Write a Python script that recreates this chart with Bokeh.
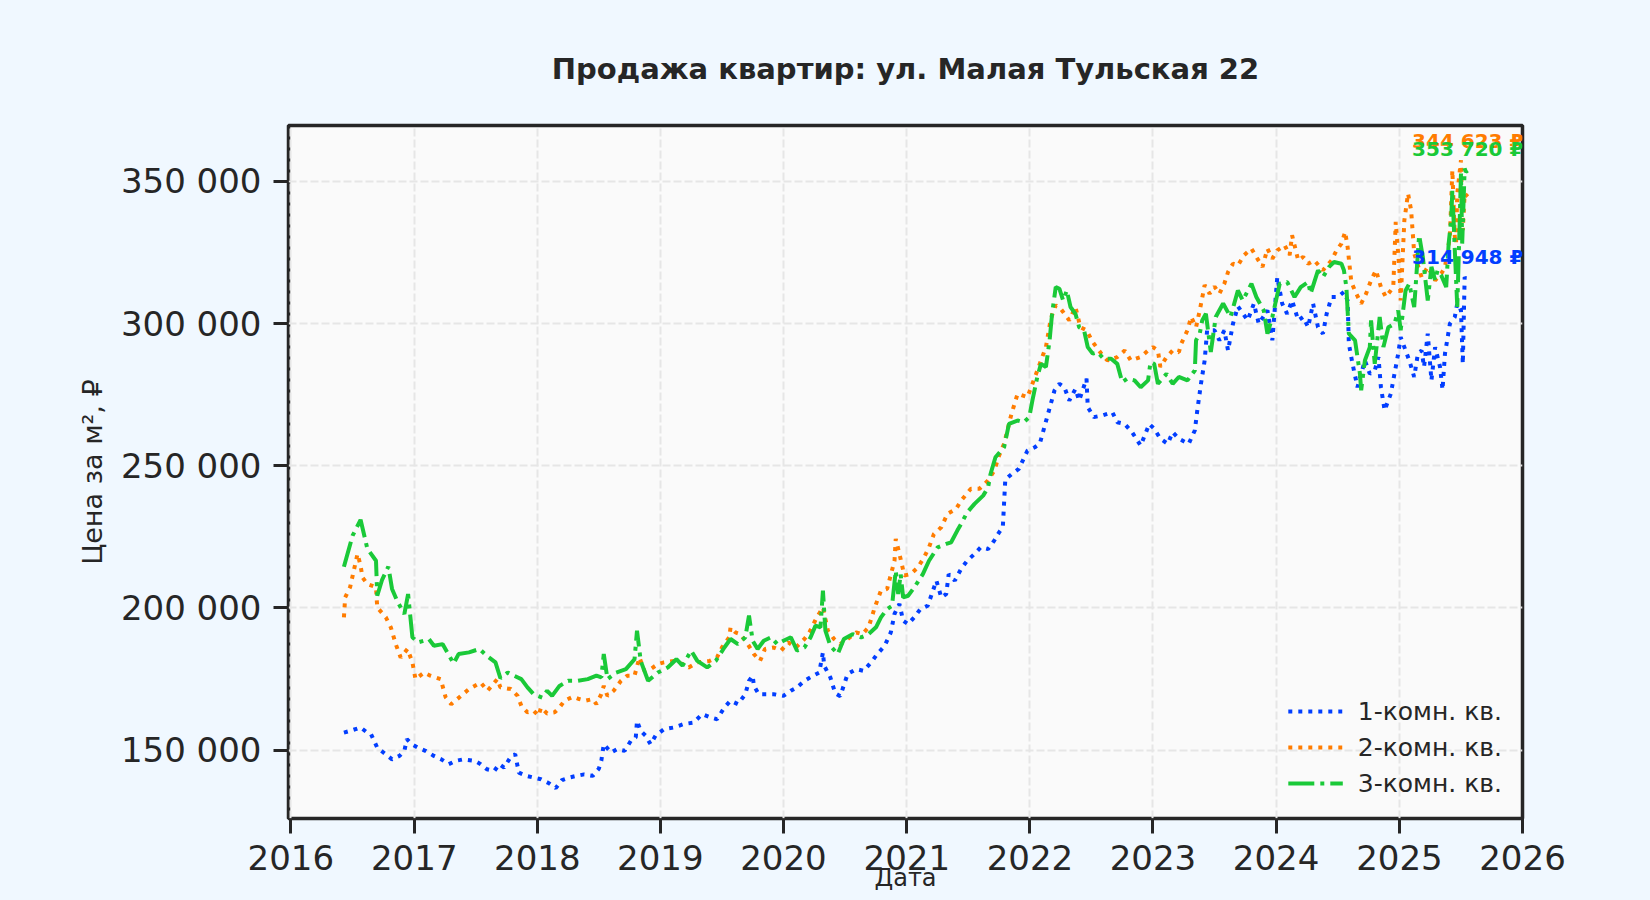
from datetime import datetime
import calendar

from bokeh.plotting import figure
from bokeh.models import (ColumnDataSource, Range1d, FixedTicker,
                          CustomJSTickFormatter, Legend)
from bokeh.core.properties import value
from bokeh.embed import file_html
from bokeh.resources import INLINE

# ---------------- data (decimal year, price in thousand RUB per m2) ----------------
t_1k = [2016.43, 2016.48, 2016.565, 2016.61, 2016.65, 2016.70, 2016.75, 2016.82, 2016.88, 2016.92,
        2016.94, 2016.98, 2017.03, 2017.09, 2017.16, 2017.22, 2017.28, 2017.34, 2017.40, 2017.49,
        2017.54, 2017.59, 2017.65, 2017.69, 2017.73, 2017.78, 2017.82, 2017.85, 2017.91, 2017.97,
        2018.03, 2018.09, 2018.15, 2018.20, 2018.26, 2018.32, 2018.38, 2018.45, 2018.50, 2018.52,
        2018.54, 2018.60, 2018.65, 2018.71, 2018.76, 2018.80, 2018.81, 2018.84, 2018.88, 2018.92,
        2018.96, 2019.03, 2019.11, 2019.19, 2019.27, 2019.34, 2019.41, 2019.46, 2019.52, 2019.57,
        2019.63, 2019.69, 2019.72, 2019.75, 2019.76, 2019.80, 2019.86, 2019.92, 2020.00, 2020.06,
        2020.11, 2020.17, 2020.24, 2020.29, 2020.32, 2020.33, 2020.38, 2020.42, 2020.46, 2020.52,
        2020.59, 2020.65, 2020.72, 2020.76, 2020.82, 2020.87, 2020.90, 2020.94, 2020.97, 2021.01,
        2021.06, 2021.11, 2021.17, 2021.24, 2021.28, 2021.32, 2021.34, 2021.39, 2021.44, 2021.49,
        2021.55, 2021.60, 2021.66, 2021.71, 2021.75, 2021.78, 2021.80, 2021.85, 2021.91, 2021.98,
        2022.04, 2022.08, 2022.14, 2022.20, 2022.24, 2022.28, 2022.32, 2022.37, 2022.40, 2022.46,
        2022.47, 2022.52, 2022.59, 2022.67, 2022.71, 2022.77, 2022.83, 2022.90, 2022.97, 2023.01,
        2023.06, 2023.12, 2023.16, 2023.21, 2023.29, 2023.34, 2023.36, 2023.39, 2023.42, 2023.44,
        2023.50, 2023.54, 2023.58, 2023.61, 2023.65, 2023.69, 2023.77, 2023.82, 2023.86, 2023.93,
        2023.97, 2024.01, 2024.05, 2024.09, 2024.13, 2024.18, 2024.22, 2024.26, 2024.30, 2024.34,
        2024.38, 2024.41, 2024.45, 2024.50, 2024.55, 2024.58, 2024.59, 2024.62, 2024.66, 2024.69,
        2024.72, 2024.76, 2024.80, 2024.83, 2024.85, 2024.88, 2024.93, 2024.99, 2025.01, 2025.04,
        2025.08, 2025.12, 2025.15, 2025.18, 2025.20, 2025.23, 2025.26, 2025.29, 2025.33, 2025.35,
        2025.37, 2025.41, 2025.45, 2025.47, 2025.50, 2025.515, 2025.53, 2025.555]
p_1k = [156.2, 156.8, 158.0, 156.5, 155.6, 150.9, 149.2, 146.8, 148.0, 149.8,
        153.9, 152.1, 150.9, 149.8, 148.0, 146.8, 145.1, 146.3, 146.8, 146.3,
        145.1, 143.3, 142.7, 145.1, 143.9, 147.4, 148.6, 142.1, 141.0, 140.4,
        139.8, 138.5, 136.7, 139.5, 140.4, 141.0, 141.5, 141.0, 143.5, 146.3,
        152.1, 149.2, 150.4, 149.8, 153.3, 154.5, 160.3, 156.8, 155.1, 152.1,
        155.1, 157.4, 158.0, 159.2, 159.7, 162.7, 161.5, 160.9, 165.0, 167.4,
        166.2, 169.7, 174.4, 176.2, 172.6, 169.7, 169.7, 169.7, 169.1, 170.9,
        172.1, 174.4, 176.2, 177.3, 184.4, 179.7, 175.6, 170.0, 169.0, 176.8,
        178.5, 177.9, 181.4, 183.8, 186.7, 191.4, 197.9, 201.4, 195.5, 194.3,
        196.7, 199.6, 200.8, 209.6, 203.7, 204.9, 211.9, 209.6, 213.7, 216.6,
        219.0, 221.3, 220.7, 223.7, 226.6, 228.5, 245.2, 247.0, 248.9, 255.3,
        256.5, 257.7, 267.1, 276.5, 278.8, 277.6, 272.9, 277.0, 272.9, 280.6,
        270.6, 267.1, 267.7, 268.8, 265.3, 264.7, 261.8, 257.1, 264.7, 263.0,
        259.5, 257.7, 261.8, 259.5, 257.7, 262.4, 269.4, 278.8, 287.0, 297.6,
        297.6, 294.1, 297.6, 290.5, 299.9, 306.0, 301.1, 307.0, 299.9, 304.6,
        294.1, 316.3, 307.0, 303.4, 308.1, 301.1, 302.3, 298.7, 307.0, 298.7,
        296.4, 303.4, 309.3, 309.3, 311.1, 308.1, 292.9, 285.8, 277.6, 282.3,
        287.0, 282.3, 283.5, 288.2, 277.6, 269.5, 275.3, 289.4, 295.2, 291.7,
        287.0, 281.2, 289.4, 290.5, 284.7, 296.4, 280.0, 291.7, 284.7, 276.7,
        289.4, 299.9, 302.3, 307.0, 304.6, 285.8, 316.3, 314.948]

t_2k = [2016.43, 2016.44, 2016.48, 2016.54, 2016.565, 2016.58, 2016.62, 2016.69, 2016.70, 2016.77,
        2016.81, 2016.85, 2016.89, 2016.945, 2016.985, 2017.01, 2017.08, 2017.13, 2017.215, 2017.255,
        2017.30, 2017.35, 2017.445, 2017.54, 2017.595, 2017.675, 2017.70, 2017.785, 2017.84, 2017.87,
        2017.92, 2017.97, 2018.01, 2018.03, 2018.08, 2018.14, 2018.18, 2018.22, 2018.29, 2018.34,
        2018.39, 2018.45, 2018.48, 2018.52, 2018.54, 2018.57, 2018.62, 2018.68, 2018.73, 2018.79,
        2018.83, 2018.87, 2018.92, 2018.98, 2019.03, 2019.11, 2019.18, 2019.23, 2019.30, 2019.40,
        2019.46, 2019.50, 2019.56, 2019.57, 2019.61, 2019.65, 2019.71, 2019.76, 2019.81, 2019.85,
        2019.92, 2019.98, 2020.04, 2020.10, 2020.17, 2020.21, 2020.27, 2020.32, 2020.36, 2020.41,
        2020.46, 2020.52, 2020.59, 2020.64, 2020.69, 2020.74, 2020.79, 2020.84, 2020.90, 2020.91,
        2020.94, 2020.98, 2021.03, 2021.09, 2021.14, 2021.18, 2021.22, 2021.28, 2021.33, 2021.40,
        2021.44, 2021.52, 2021.59, 2021.66, 2021.71, 2021.75, 2021.79, 2021.85, 2021.90, 2021.98,
        2022.05, 2022.13, 2022.17, 2022.21, 2022.25, 2022.32, 2022.37, 2022.41, 2022.46, 2022.51,
        2022.58, 2022.63, 2022.71, 2022.77, 2022.82, 2022.90, 2022.96, 2023.00, 2023.04, 2023.06,
        2023.11, 2023.16, 2023.21, 2023.23, 2023.28, 2023.31, 2023.35, 2023.38, 2023.42, 2023.46,
        2023.50, 2023.54, 2023.58, 2023.61, 2023.65, 2023.69, 2023.74, 2023.80, 2023.84, 2023.89,
        2023.93, 2023.97, 2024.01, 2024.07, 2024.11, 2024.13, 2024.18, 2024.22, 2024.26, 2024.31,
        2024.38, 2024.45, 2024.49, 2024.53, 2024.56, 2024.58, 2024.61, 2024.65, 2024.69, 2024.73,
        2024.77, 2024.81, 2024.85, 2024.89, 2024.95, 2024.97, 2025.00, 2025.01, 2025.04, 2025.07,
        2025.095, 2025.12, 2025.18, 2025.23, 2025.29, 2025.34, 2025.37, 2025.41, 2025.43, 2025.45,
        2025.46, 2025.47, 2025.50, 2025.515, 2025.53, 2025.555]
p_2k = [196.7, 203.7, 207.3, 219.0, 214.9, 210.8, 208.4, 207.3, 200.2, 196.7,
        193.2, 187.3, 182.6, 185.6, 180.9, 175.0, 177.3, 176.2, 175.0, 168.6,
        166.2, 168.0, 171.5, 173.8, 170.9, 175.0, 172.1, 171.5, 169.1, 165.6,
        163.3, 163.9, 162.1, 165.0, 162.9, 163.3, 165.0, 167.4, 168.8, 168.0,
        167.4, 168.0, 166.2, 169.7, 172.6, 169.1, 170.9, 174.4, 176.2, 176.2,
        182.6, 177.9, 178.5, 180.3, 180.9, 181.4, 180.3, 179.1, 180.9, 181.4,
        182.6, 186.1, 189.7, 193.2, 191.4, 190.8, 187.3, 183.8, 181.4, 185.6,
        186.1, 185.0, 187.9, 186.1, 189.1, 191.4, 196.7, 200.2, 192.0, 189.1,
        187.3, 189.1, 191.4, 190.8, 193.2, 200.2, 206.1, 206.7, 216.6, 224.3,
        219.0, 211.4, 211.9, 214.3, 217.8, 221.3, 226.0, 228.4, 233.1, 234.8,
        237.7, 241.9, 241.9, 244.8, 248.3, 253.6, 257.7, 268.2, 275.3, 274.1,
        282.3, 291.7, 301.7, 306.4, 305.2, 301.1, 305.8, 298.7, 297.6, 293.5,
        289.4, 287.0, 288.2, 290.5, 287.0, 288.2, 290.5, 291.7, 290.5, 284.7,
        288.2, 290.5, 289.9, 292.9, 297.6, 302.3, 298.7, 304.6, 313.5, 310.5,
        313.0, 310.5, 314.0, 318.1, 321.0, 320.4, 324.0, 326.3, 323.4, 319.9,
        326.3, 322.8, 325.7, 327.5, 324.0, 331.0, 322.2, 323.4, 321.0, 322.2,
        318.7, 322.2, 325.7, 328.1, 332.2, 326.9, 314.6, 310.5, 307.0, 310.5,
        315.2, 318.7, 312.8, 309.3, 312.8, 335.7, 318.7, 308.1, 336.3, 345.7,
        339.8, 324.6, 316.3, 319.9, 315.2, 317.5, 319.9, 330.4, 353.9, 330.4,
        328.1, 345.7, 357.4, 332.8, 345.7, 344.623]

t_3k = [2016.43, 2016.50, 2016.565, 2016.62, 2016.69, 2016.70, 2016.74, 2016.79, 2016.82, 2016.86,
        2016.92, 2016.95, 2016.985, 2017.03, 2017.12, 2017.16, 2017.23, 2017.32, 2017.36, 2017.445,
        2017.53, 2017.59, 2017.66, 2017.70, 2017.76, 2017.81, 2017.87, 2017.92, 2017.97, 2018.04,
        2018.08, 2018.12, 2018.18, 2018.25, 2018.33, 2018.41, 2018.48, 2018.52, 2018.54, 2018.57,
        2018.64, 2018.72, 2018.79, 2018.81, 2018.84, 2018.90, 2018.98, 2019.06, 2019.13, 2019.18,
        2019.25, 2019.30, 2019.38, 2019.45, 2019.52, 2019.57, 2019.63, 2019.69, 2019.72, 2019.75,
        2019.79, 2019.84, 2019.90, 2019.95, 2020.00, 2020.06, 2020.11, 2020.17, 2020.22, 2020.26,
        2020.30, 2020.32, 2020.34, 2020.38, 2020.44, 2020.49, 2020.56, 2020.63, 2020.69, 2020.75,
        2020.79, 2020.84, 2020.88, 2020.91, 2020.93, 2020.95, 2020.97, 2021.01, 2021.06, 2021.13,
        2021.18, 2021.25, 2021.32, 2021.36, 2021.41, 2021.44, 2021.49, 2021.55, 2021.62, 2021.66,
        2021.68, 2021.72, 2021.76, 2021.79, 2021.83, 2021.90, 2021.95, 2021.995, 2022.02, 2022.06,
        2022.09, 2022.13, 2022.16, 2022.18, 2022.21, 2022.24, 2022.27, 2022.30, 2022.33, 2022.37,
        2022.40, 2022.44, 2022.47, 2022.51, 2022.55, 2022.60, 2022.66, 2022.71, 2022.75, 2022.79,
        2022.85, 2022.90, 2022.96, 2022.98, 2023.01, 2023.04, 2023.11, 2023.16, 2023.21, 2023.28,
        2023.34, 2023.35, 2023.38, 2023.40, 2023.43, 2023.47, 2023.51, 2023.57, 2023.63, 2023.69,
        2023.73, 2023.80, 2023.84, 2023.90, 2023.93, 2023.97, 2024.03, 2024.09, 2024.15, 2024.20,
        2024.26, 2024.28, 2024.34, 2024.38, 2024.43, 2024.47, 2024.53, 2024.55, 2024.57, 2024.59,
        2024.64, 2024.68, 2024.69, 2024.72, 2024.76, 2024.77, 2024.80, 2024.84, 2024.87, 2024.91,
        2024.96, 2024.99, 2025.01, 2025.05, 2025.08, 2025.12, 2025.16, 2025.19, 2025.23, 2025.26,
        2025.29, 2025.31, 2025.34, 2025.38, 2025.40, 2025.42, 2025.43, 2025.45, 2025.47, 2025.49,
        2025.50, 2025.51, 2025.53, 2025.54, 2025.555]
p_3k = [214.5, 225.4, 231.0, 220.8, 216.6, 204.3, 210.0, 214.5, 206.7, 202.6,
        197.9, 204.9, 189.7, 187.9, 189.0, 186.7, 187.3, 180.5, 183.8, 184.4,
        185.6, 183.2, 180.9, 175.3, 177.3, 176.2, 175.0, 172.1, 169.7, 168.5,
        170.9, 169.1, 172.6, 174.4, 174.4, 175.0, 176.2, 175.6, 183.8, 175.0,
        177.3, 178.5, 182.0, 192.0, 181.4, 174.4, 177.3, 179.1, 182.0, 179.7,
        185.0, 181.4, 179.1, 181.4, 186.1, 189.1, 187.3, 189.7, 197.3, 188.5,
        185.6, 188.5, 189.7, 187.3, 188.5, 189.7, 185.0, 186.1, 189.7, 193.8,
        193.2, 206.1, 192.0, 186.7, 183.8, 189.1, 190.8, 189.7, 190.8, 193.2,
        196.7, 199.6, 200.8, 213.1, 204.9, 211.9, 203.7, 204.3, 207.2, 211.9,
        216.6, 221.3, 222.5, 223.1, 227.2, 229.5, 233.6, 236.6, 239.5, 242.4,
        247.1, 253.0, 255.0, 256.5, 264.7, 265.9, 265.3, 267.1, 272.9, 281.2,
        285.8, 284.7, 294.1, 303.4, 312.8, 312.2, 308.1, 311.6, 305.8, 303.4,
        298.7, 297.6, 291.7, 289.4, 289.9, 287.6, 287.6, 285.8, 279.4, 280.6,
        280.0, 277.6, 280.0, 286.4, 285.8, 278.8, 282.3, 278.8, 281.2, 280.0,
        283.5, 294.1, 296.4, 301.1, 303.4, 290.0, 302.3, 307.0, 302.3, 311.6,
        308.1, 314.0, 309.3, 304.6, 296.4, 302.3, 314.0, 314.6, 309.3, 312.8,
        314.6, 310.5, 318.7, 316.3, 319.9, 321.6, 321.0, 318.7, 312.8, 296.4,
        294.1, 282.3, 276.5, 287.0, 291.7, 301.1, 285.8, 302.3, 291.7, 298.7,
        299.9, 304.6, 297.6, 311.6, 314.0, 305.8, 331.0, 323.4, 308.1, 319.9,
        315.2, 318.7, 316.9, 312.8, 328.1, 336.3, 346.8, 325.7, 305.8, 336.3,
        352.7, 328.1, 354.5, 353.3, 353.72]

series_names = ["1-комн. кв.", "2-комн. кв.", "3-комн. кв."]
series_colors = ["#023eff", "#ff7c00", "#1ac938"]
series_dashes = ["4 6", "4 6", "26 6 4 6"]
label_offsets = [-24, -56, -22]          # screen px, style of the end labels

year_ticks = list(range(2016, 2027))
y_ticks = [150000, 200000, 250000, 300000, 350000]

title_text = "Продажа квартир: ул. Малая Тульская 22"
x_label = "Дата"
y_label = "Цена за м², ₽"


def to_dt(ty):
    y = int(ty)
    start = datetime(y, 1, 1)
    end = datetime(y + 1, 1, 1)
    return start + (end - start) * (ty - y)


def ms(dt):
    return calendar.timegm(dt.timetuple()) * 1000.0


FONT = "DejaVu Sans"
DARK = "#262626"

p = figure(width=1650, height=900, output_backend="svg", toolbar_location=None,
           x_axis_type="datetime",
           x_range=Range1d(ms(datetime(2015, 12, 25)), ms(datetime(2026, 1, 1))),
           y_range=Range1d(126000, 369600),
           min_border_left=288, min_border_right=128,
           min_border_top=125, min_border_bottom=82)

p.border_fill_color = "#F0F8FF"
p.background_fill_color = "#fafafa"
p.outline_line_color = DARK
p.outline_line_width = 3.5

# title
p.title.text = title_text
p.title.align = "center"
p.title.text_font = FONT
p.title.text_font_size = "29px"
p.title.text_font_style = "bold"
p.title.text_color = DARK
p.title.standoff = 80

# axes
p.xaxis.ticker = FixedTicker(ticks=[ms(datetime(y, 1, 1)) for y in year_ticks])
p.xaxis.formatter = CustomJSTickFormatter(code="return String(new Date(tick).getUTCFullYear());")
p.yaxis.ticker = FixedTicker(ticks=y_ticks)
p.yaxis.formatter = CustomJSTickFormatter(
    code="return Math.round(tick).toString().replace(/\\B(?=(\\d{3})+(?!\\d))/g, ' ');")

for ax in (p.xaxis[0], p.yaxis[0]):
    ax.axis_line_color = None
    ax.major_tick_line_color = DARK
    ax.major_tick_line_width = 3
    ax.major_tick_in = 0
    ax.major_tick_out = 15
    ax.minor_tick_line_color = None
    ax.major_label_text_font = FONT
    ax.major_label_text_font_size = "34px"
    ax.major_label_text_color = DARK
    ax.axis_label_text_font = FONT
    ax.axis_label_text_font_style = "normal"
    ax.axis_label_text_color = DARK

p.xaxis.axis_label = x_label
p.xaxis.axis_label_text_font_size = "24px"
p.xaxis.major_label_standoff = 11
p.xaxis.axis_label_standoff = -9
p.yaxis.axis_label = y_label
p.yaxis.axis_label_text_font_size = "27px"
p.yaxis.major_label_standoff = 12
p.yaxis.axis_label_standoff = 10

# grid
for g in (p.xgrid[0], p.ygrid[0]):
    g.grid_line_color = "#e6e6e6"
    g.grid_line_width = 2
    g.grid_line_dash = "8 3"

# lines
all_t = [t_1k, t_2k, t_3k]
all_p = [p_1k, p_2k, p_3k]
renderers = []
for name, ts, ps, col, dash in zip(series_names, all_t, all_p, series_colors, series_dashes):
    src = ColumnDataSource(dict(x=[to_dt(t) for t in ts], y=[v * 1000 for v in ps]))
    r = p.line("x", "y", source=src, line_color=col, line_width=4, line_dash=dash)
    renderers.append((name, [r]))

legend = Legend(items=renderers, location="bottom_right")
legend.background_fill_alpha = 0
legend.border_line_alpha = 0
legend.label_text_font = FONT
legend.label_text_font_size = "25px"
legend.label_text_color = DARK
legend.glyph_width = 55
legend.glyph_height = 30
legend.label_standoff = 15
legend.spacing = 6
legend.padding = 10
legend.margin = 10
p.add_layout(legend)

# end-value labels
last_x = [to_dt(ts[-1]) for ts in all_t]
last_y = [ps[-1] * 1000 for ps in all_p]
last_txt = ["{:,.0f}".format(v).replace(",", " ") + " ₽" for v in last_y]
lab_src = ColumnDataSource(dict(x=last_x, y=last_y, text=last_txt,
                                color=series_colors, off=label_offsets))
p.text("x", "y", text="text", source=lab_src, text_color="color", y_offset="off",
       text_font=value(FONT), text_font_size="20px", text_font_style="bold",
       text_align="center", text_baseline="middle")

html = file_html(p, INLINE)
html = html.replace("</head>", "<style>html, body {background-color: #F0F8FF;}</style></head>", 1)
open("out.html", "w").write(html)
